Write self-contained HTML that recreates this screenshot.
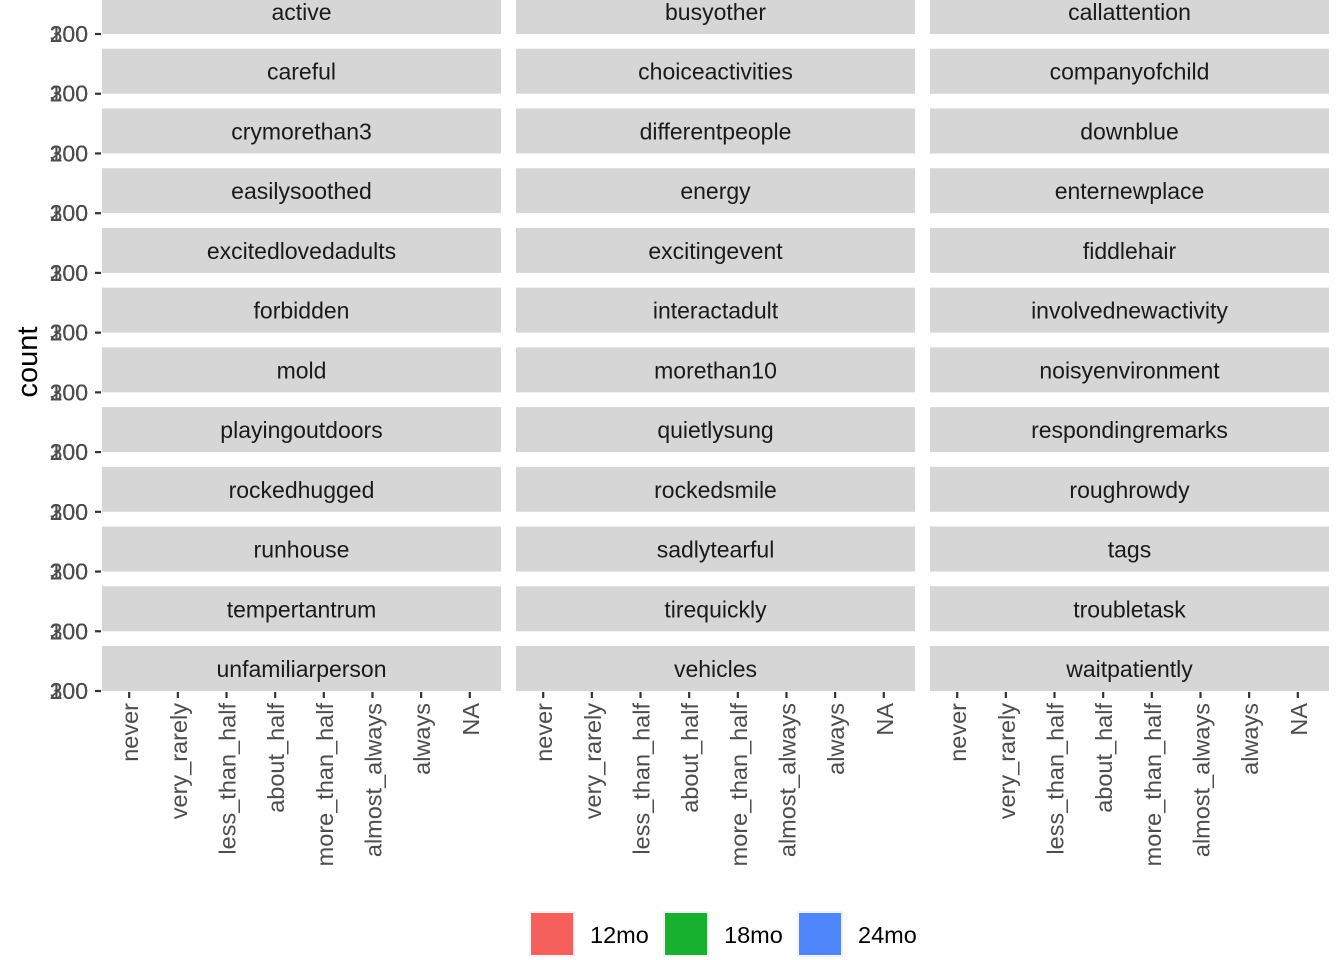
<!DOCTYPE html>
<html><head><meta charset="utf-8">
<style>
html,body{margin:0;padding:0;background:#fff;}
svg{display:block;font-family:"Liberation Sans",Arial,sans-serif;}
</style></head>
<body>
<svg id="chart" width="1344" height="960" viewBox="0 0 1344 960"></svg>
<script>
const facets = ["active","busyother","callattention","careful","choiceactivities","companyofchild","crymorethan3","differentpeople","downblue","easilysoothed","energy","enternewplace","excitedlovedadults","excitingevent","fiddlehair","forbidden","interactadult","involvednewactivity","mold","morethan10","noisyenvironment","playingoutdoors","quietlysung","respondingremarks","rockedhugged","rockedsmile","roughrowdy","runhouse","sadlytearful","tags","tempertantrum","tirequickly","troubletask","unfamiliarperson","vehicles","waitpatiently"];
const categories = ["never","very_rarely","less_than_half","about_half","more_than_half","almost_always","always","NA"];
const yTickLabels = ["0","100","200","300"];
const seriesNames = ["12mo","18mo","24mo"];
const seriesColors = ["#f5605c","#18b02f","#4f86fc"];

const NS="http://www.w3.org/2000/svg";
const svg=document.getElementById('chart');
function mk(tag,attrs,parent){const e=document.createElementNS(NS,tag);for(const k in attrs)e.setAttribute(k,attrs[k]);(parent||svg).appendChild(e);return e;}

const colX=[102,516,930], panelW=399, nCols=3;
const nRows=Math.ceil(facets.length/nCols);
const baseY0=34, rowStep=(691-34)/(nRows-1);
function rowBase(r){return baseY0+r*rowStep;}
function xPos(i,c){const step=panelW/(categories.length+0.2);return colX[c]+(0.6+i)*step-2;}

facets.forEach((f,idx)=>{
  const r=Math.floor(idx/nCols), c=idx%nCols;
  const b=rowBase(r);
  const g=mk('g',{});
  
  
  const s=mk('rect',{x:colX[c],y:b-45,width:panelW,height:45,fill:'#d6d6d6'},g);
  
  
  const t=mk('text',{x:colX[c]+panelW/2,y:b-14,'text-anchor':'middle','font-size':'23',fill:'#1a1a1a'},g);
  t.textContent=f;
  
  
});

for(let r=0;r<nRows;r++){
  const b=rowBase(r);
  const tk=mk('line',{x1:95,x2:101,y1:b,y2:b,stroke:'#333','stroke-width':2.2});
  
  
  yTickLabels.forEach(l=>{
    const t=mk('text',{x:88,y:b+8,'text-anchor':'end','font-size':'23',fill:'#4d4d4d'});
    t.textContent=l;
    
    
  });
}
const yt=mk('text',{transform:'translate(37,362) rotate(-90)','text-anchor':'middle','font-size':'29',fill:'#000'});
yt.textContent='count';



const lastB=rowBase(nRows-1);
for(let c=0;c<nCols;c++){
  categories.forEach((cat,i)=>{
    const x=xPos(i,c);
    const tk=mk('line',{x1:x,x2:x,y1:lastB+1,y2:lastB+7,stroke:'#333','stroke-width':2.2});
    
    
    const t=mk('text',{transform:`translate(${x+9},${lastB+12}) rotate(-90)`,'text-anchor':'end','font-size':'23.5',fill:'#4d4d4d'});
    t.textContent=cat;
    
    
  });
}

const lx=[529,663,797];
seriesNames.forEach((n,i)=>{
  const g=mk('g',{});
  
  
  mk('rect',{x:lx[i],y:911,width:46,height:46,fill:'#f2f2f2'},g);
  mk('rect',{x:lx[i]+2,y:913,width:42,height:42,fill:seriesColors[i]},g);
  const t=mk('text',{x:lx[i]+61,y:943,'font-size':'23.5',fill:'#000'},g);
  t.textContent=n;
});
</script>
</body></html>
